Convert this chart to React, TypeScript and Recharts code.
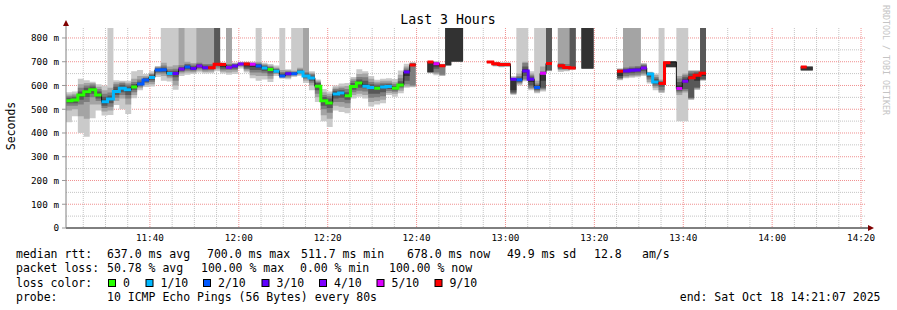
import {
  Area,
  CartesianGrid,
  ComposedChart,
  Line,
  ReferenceDot,
  XAxis,
  YAxis,
} from "recharts";

const MONO = '"DejaVu Sans Mono", monospace';

// time axis in minutes after midnight; graph ends Sat Oct 18 14:21:07 2025
const START_MIN = 681 + 7 / 60;
const END_MIN = START_MIN + 180;
const STEP_MIN = 80 / 60;
const Y_MAX = 842;
const HI = 900; // ping above the top of the graph

const X_TICKS = [700, 720, 740, 760, 780, 800, 820, 840, 860];
const X_MINOR = [
  685, 690, 695, 705, 710, 715, 725, 730, 735, 745, 750, 755, 765, 770, 775,
  785, 790, 795, 805, 810, 815, 825, 830, 835, 845, 850, 855,
];
const Y_TICKS = [0, 100, 200, 300, 400, 500, 600, 700, 800];
const Y_MAJOR = [100, 200, 300, 400, 500, 600, 700, 800];
const Y_MINOR = [50, 150, 250, 350, 450, 550, 650, 750];

// median rtt (ms) per 80s step
const MEDIAN: (number | null)[] = [
  536, 539, 560, 574, 582, 560, 532, 543, 575, 588,
  582, 594, 606, 623, 634, 665, 666, 650, 650, 669,
  678, 671, 682, 675, 675, 689, 688, 676, 682, 690,
  690, 689, 682, 674, 667, 660, 640, 649, 649, 657,
  640, 632, 597, 536, 526, 564, 568, 557, 596, 610,
  597, 592, 588, 594, 596, 588, 602, 657, 686, null,
  null, 699, 692, 683, null, null, null, null, null, null,
  null, 699, 692, 688, 688, 626, 624, 661, 626, 592,
  651, 693, null, 683, 676, 674, null, null, null, null,
  null, null, null, 660, 661, 664, 665, 674, 648, 615,
  608, 696, 699, 587, 618, 633, 643, 651, null, null,
  null, null, null, null, null, null, null, null, null, null,
  null, null, null, null, 678, null, null, null, null, null,
  null, null, null, null, null,
];

// lost pings out of 10 per step
const LOSS: (number | null)[] = [
  0, 0, 0, 0, 0, 0, 1, 1, 1, 1,
  1, 0, 2, 2, 1, 2, 2, 1, 3, 4,
  2, 3, 4, 3, 9, 9, 9, 4, 3, 4,
  9, 5, 2, 1, 0, 1, 2, 3, 2, 1,
  1, 1, 0, 0, 0, 1, 1, 0, 0, 0,
  1, 1, 0, 1, 1, 0, 0, 3, 9, null,
  null, 9, 5, 9, null, null, null, null, null, null,
  null, 9, 9, 9, 9, 3, 2, 3, 3, 2,
  5, 9, null, 9, 9, 9, null, null, null, null,
  null, null, null, 9, 3, 3, 3, 4, 1, 1,
  9, 9, null, 5, 4, 9, 9, 9, null, null,
  null, null, null, null, null, null, null, null, null, null,
  null, null, null, null, 9, null, null, null, null, null,
  null, null, null, null, null,
];

// sorted pings (ms) per step, used for the smoke
const PINGS: (number[] | null)[] = [
  [445, 495, 515, 525, 532, 540, 548, 555, 562, 572],
  [470, 500, 515, 525, 535, 543, 550, 558, 565, 575],
  [400, 470, 520, 540, 552, 566, 575, 590, 605, 628],
  [384, 460, 530, 552, 566, 580, 590, 600, 610, 622],
  [462, 520, 550, 565, 576, 588, 596, 604, 610, 616],
  [495, 520, 535, 545, 555, 565, 575, 585, 595, 605],
  [474, 490, 505, 515, 525, 540, 553, 565, 580, 600],
  [476, 495, 510, 525, 538, 548, 558, 570, 590, HI],
  [518, 535, 548, 560, 570, 582, 595, 605, 614, 622],
  [500, 545, 560, 572, 584, 594, 603, 610, 616, 620],
  // 10
  [480, 520, 545, 560, 575, 588, 596, 604, 612, 620],
  [546, 560, 572, 582, 590, 598, 606, 615, 628, 660],
  [580, 588, 595, 600, 604, 610, 616, 625, 640, 665],
  [594, 603, 610, 615, 620, 626, 630, 634, 640, 648],
  [596, 605, 615, 622, 630, 638, 643, 648, 652, 660],
  [636, 645, 652, 658, 663, 668, 672, 676, 679, 682],
  [620, 640, 650, 657, 663, 670, 676, 684, 696, HI],
  [617, 630, 638, 643, 647, 653, 660, 668, 680, HI],
  [582, 600, 620, 635, 645, 655, 662, 670, 685, HI],
  [640, 650, 657, 662, 667, 673, 678, 685, HI, HI],
  // 20
  [645, 655, 662, 668, 675, 682, 688, 692, 700, HI],
  [648, 655, 660, 665, 669, 675, 681, 688, 695, HI],
  [655, 662, 668, 674, 679, 685, 690, 696, HI, HI],
  [650, 657, 663, 668, 672, 678, 684, 690, HI, HI],
  [652, 658, 664, 669, 673, 678, 683, 690, HI, HI],
  [660, 668, 676, 684, 688, 692, HI, HI, HI, HI],
  [650, 658, 664, 670, 678, 686, 690, 692, 695, 698],
  [645, 655, 665, 670, 674, 680, 685, 690, HI, HI],
  [648, 658, 666, 672, 679, 685, 688, 691, 694, 697],
  [672, 678, 682, 686, 689, 692, 694, 696, 698, 700],
  // 30
  [655, 662, 668, 672, 680, 692, 694, 696, 698, 700],
  [630, 643, 655, 665, 678, 686, 690, 693, 696, 700],
  [620, 640, 655, 665, 676, 686, 690, 694, 700, HI],
  [625, 640, 652, 660, 668, 678, 682, 686, 690, 696],
  [615, 628, 640, 650, 662, 671, 676, 680, 684, 690],
  [640, 648, 652, 656, 659, 664, 668, 672, 676, 684],
  [628, 632, 636, 638, 640, 645, 650, 657, 665, HI],
  [626, 632, 638, 643, 647, 652, 656, 660, 664, 668],
  [636, 640, 644, 646, 648, 652, 655, 658, 662, HI],
  [640, 645, 650, 653, 656, 660, 664, 668, 675, HI],
  // 40
  [610, 620, 628, 634, 638, 644, 650, 656, HI, HI],
  [580, 600, 612, 620, 628, 636, 642, 648, 654, 660],
  [530, 550, 565, 580, 592, 602, 610, 615, 620, 625],
  [449, 475, 500, 515, 530, 542, 552, 560, 572, 585],
  [425, 460, 485, 505, 520, 532, 545, 555, 565, 575],
  [495, 515, 530, 545, 558, 570, 578, 585, 592, 600],
  [488, 510, 530, 548, 562, 572, 580, 588, 596, 608],
  [483, 505, 525, 540, 552, 562, 572, 585, 598, 610],
  [545, 560, 572, 582, 592, 600, 610, 620, 628, 636],
  [553, 565, 578, 590, 605, 616, 625, 636, 648, 668],
  // 50
  [545, 560, 575, 588, 595, 605, 620, 635, 650, 660],
  [511, 530, 548, 565, 588, 597, 605, 615, 628, 640],
  [520, 535, 550, 565, 584, 592, 600, 608, 616, 624],
  [525, 540, 555, 572, 590, 598, 604, 612, 620, 628],
  [560, 568, 577, 585, 593, 599, 605, 612, 620, 630],
  [553, 565, 574, 580, 586, 592, 598, 606, 614, 627],
  [567, 578, 588, 595, 600, 608, 618, 630, 645, 663],
  [590, 596, 605, 620, 640, 658, 665, 672, 680, 692],
  [593, 596, 600, 686, 688, 690, 692, 694, 696, 698],
  null,
  // 60
  null,
  [652, 654, 655, 656, 657, 698, 699, 700, 701, 702],
  [643, 648, 655, 670, 680, 694, 696, 698, 700, 702],
  [640, 642, 645, 678, 680, 684, 686, 688, 690, 692],
  [685, 685, 685, 685, 685, HI, HI, HI, HI, HI],
  [701, 701, 701, 701, 701, HI, HI, HI, HI, HI],
  [701, 701, 701, 701, 701, HI, HI, HI, HI, HI],
  null,
  null,
  null,
  // 70
  null,
  null,
  [680, 682, 684, 686, 688, 692, 694, 696, 698, 700],
  [677, 679, 681, 684, 686, 690, 692, 694, 696, 698],
  [678, 680, 682, 684, 686, 690, 692, 694, 696, 698],
  [561, 563, 566, 570, 580, 622, 626, 630, 634, 640],
  [600, 605, 610, 615, 620, 628, 634, 640, 650, HI],
  [618, 622, 626, 640, 655, 668, 680, 695, 700, HI],
  [580, 585, 590, 600, 615, 630, 638, 643, 650, 660],
  [567, 572, 578, 582, 588, 596, 602, 608, 620, HI],
  // 80
  [575, 580, 585, 590, 620, 645, 652, 660, 680, HI],
  [660, 662, 664, 664, 690, 696, HI, HI, HI, HI],
  null,
  [657, 664, 668, 672, 678, 686, 690, 694, HI, HI],
  [660, 664, 668, 672, 674, 678, 682, 690, HI, HI],
  [665, 668, 670, 672, 674, 678, HI, HI, HI, HI],
  null,
  [671, 671, 671, 671, 671, HI, HI, HI, HI, HI],
  [671, 671, 671, 671, 671, HI, HI, HI, HI, HI],
  null,
  // 90
  null,
  null,
  null,
  [622, 625, 628, 632, 640, 660, 664, 668, 670, 672],
  [630, 635, 640, 650, 658, 664, 670, 676, HI, HI],
  [633, 638, 643, 652, 660, 668, 674, 680, HI, HI],
  [635, 640, 645, 655, 662, 670, 676, 682, HI, HI],
  [640, 645, 650, 660, 670, 678, 684, 688, 692, 695],
  [608, 615, 625, 635, 645, 650, 652, 654, 656, 658],
  [580, 590, 598, 605, 612, 620, 628, 636, 644, 650],
  // 100
  [568, 572, 580, 595, 605, 612, 616, 620, 625, HI],
  [676, 677, 677, 678, 678, 699, 700, 701, 702, 703],
  [676, 677, 677, 678, 678, 699, 700, 701, 702, 703],
  [449, 560, 570, 578, 585, 600, 615, 629, 640, HI],
  [449, 570, 578, 585, 612, 625, 635, 643, 650, HI],
  [539, 542, 545, 548, 628, 640, 650, 660, 662, 664],
  [581, 584, 588, 592, 620, 648, 655, 660, 662, 664],
  [620, 622, 624, 626, 640, 656, HI, HI, HI, HI],
  null,
  null,
  // 110
  null, null, null, null, null, null, null, null, null, null,
  // 120
  null,
  null,
  null,
  null,
  [661, 662, 663, 664, 665, 678, 679, 680, 681, 682],
  [661, 662, 663, 664, 665, 678, 679, 680, 681, 682],
  null,
  null,
  null,
  null,
  // 130
  null, null, null, null, null,
];

const SMOKE = ["#cacaca", "#a4a4a4", "#7e7e7e", "#585858", "#323232"];
const LOSS_LABELS = ["0", "1/10", "2/10", "3/10", "4/10", "5/10", "9/10"];
const LOSS_COLORS = ["#26ff00", "#00b8ff", "#0059ff", "#5e00ff", "#7e00ff", "#dd00ff", "#ff0000"];

const RTT_STATS = ["637.0 ms avg", "700.0 ms max", "511.7 ms min", "678.0 ms now", "49.9 ms sd", "12.8", "am/s"];
const LOSS_STATS = ["50.78 % avg", "100.00 % max", "0.00 % min", "100.00 % now"];
const PROBE = "10 ICMP Echo Pings (56 Bytes) every 80s";
const END_LABEL = "end: Sat Oct 18 14:21:07 2025";

// legend layout
const RTT_X = [107, 207, 301, 407, 507, 594, 642];
const LOSS_X = [107, 201, 300, 389];
const SWATCH_X = [108.5, 146, 203.5, 262, 319.5, 377, 435];

function lossClass(n: number | null) {
  if (n == null) return -1;
  if (n >= 9) return 6;
  if (n >= 5) return 5;
  return n;
}

const rows = MEDIAN.flatMap((med, k) => {
  const p = PINGS[k];
  const cls = lossClass(LOSS[k]);
  const base: Record<string, unknown> = { med };
  SMOKE.forEach((_, j) => {
    base["b" + j] = p ? [Math.min(p[j], Y_MAX), Math.min(p[9 - j], Y_MAX)] : null;
  });
  LOSS_COLORS.forEach((_, c) => {
    base["c" + c] = cls === c ? med : null;
  });
  const t0 = START_MIN + k * STEP_MIN;
  return [
    { x: t0, ...base },
    { x: t0 + STEP_MIN, ...base },
  ];
});

const fmtTime = (m: number) =>
  `${Math.floor(m / 60)}:${String(Math.round(m % 60)).padStart(2, "0")}`;

const fmtMs = (v: number) => (v === 0 ? "0" : `${v} m`);

export default function App() {
  return (
    <div style={{ position: "absolute", left: 0, top: 0, width: 897, height: 310, background: "#fff" }}>
      <ComposedChart
        width={897}
        height={310}
        data={rows}
        margin={{ top: 28, right: 31, bottom: 62, left: 10 }}
      >
        <CartesianGrid
          horizontalValues={Y_MINOR}
          verticalValues={X_MINOR}
          stroke="#c4c4c4"
          strokeDasharray="1 1"
          fill="none"
        />
        <CartesianGrid
          horizontalValues={Y_MAJOR}
          verticalValues={X_TICKS}
          stroke="#f09090"
          strokeDasharray="1 1"
          fill="none"
        />
        <XAxis
          dataKey="x"
          type="number"
          domain={[START_MIN, END_MIN]}
          ticks={X_TICKS}
          interval={0}
          allowDataOverflow
          tickFormatter={fmtTime}
          height={20}
          axisLine={{ stroke: "#000" }}
          tickLine={false}
          tickSize={4}
          tickMargin={2}
          tick={{ fontSize: 9.3, fill: "#000", fontFamily: MONO }}
        />
        <YAxis
          type="number"
          domain={[0, Y_MAX]}
          ticks={Y_TICKS}
          interval={0}
          allowDataOverflow
          tickFormatter={fmtMs}
          width={56}
          axisLine={{ stroke: "#808080" }}
          tickLine={{ stroke: "#999" }}
          tickSize={4}
          tickMargin={3}
          tick={{ fontSize: 9.3, fill: "#000", fontFamily: MONO }}
        />

        {SMOKE.map((color, j) => (
          <Area
            key={"b" + j}
            dataKey={"b" + j}
            type="linear"
            fill={color}
            fillOpacity={1}
            stroke="none"
            dot={false}
            activeDot={false}
            connectNulls={false}
            isAnimationActive={false}
          />
        ))}

        <Line
          dataKey="med"
          type="linear"
          stroke="#111"
          strokeWidth={1}
          dot={false}
          activeDot={false}
          connectNulls={false}
          isAnimationActive={false}
        />
        {LOSS_COLORS.map((color, c) => (
          <Line
            key={"c" + c}
            dataKey={"c" + c}
            type="linear"
            stroke={color}
            strokeWidth={3}
            dot={false}
            activeDot={false}
            connectNulls={false}
            isAnimationActive={false}
          />
        ))}

        <ReferenceDot
          x={END_MIN}
          y={0}
          r={0}
          ifOverflow="visible"
          shape={(p: { cx: number; cy: number }) => (
            <g>
              <line x1={p.cx} y1={p.cy} x2={p.cx + 3} y2={p.cy} stroke="#000" />
              <path d={`M${p.cx + 2},${p.cy - 3} L${p.cx + 8},${p.cy} L${p.cx + 2},${p.cy + 3} Z`} fill="#800000" />
            </g>
          )}
        />
        <ReferenceDot
          x={START_MIN}
          y={Y_MAX}
          r={0}
          ifOverflow="visible"
          shape={(p: { cx: number; cy: number }) => (
            <g>
              <line x1={p.cx} y1={p.cy} x2={p.cx} y2={p.cy - 3} stroke="#808080" />
              <path d={`M${p.cx - 3},${p.cy - 2} L${p.cx},${p.cy - 8} L${p.cx + 3},${p.cy - 2} Z`} fill="#800000" />
            </g>
          )}
        />
      </ComposedChart>

      <svg
        width={897}
        height={310}
        style={{ position: "absolute", left: 0, top: 0, pointerEvents: "none" }}
        fontFamily={MONO}
      >
        <text x={448} y={24} textAnchor="middle" fontSize={13.2} fill="#000">
          Last 3 Hours
        </text>
        <text transform="translate(15 126) rotate(-90)" textAnchor="middle" fontSize={11.5} fill="#000">
          Seconds
        </text>
        <text transform="translate(883 5) rotate(90)" fontSize={8.3} fill="#c4c4c4">
          RRDTOOL / TOBI OETIKER
        </text>

        <g fontSize={11.5} fill="#000">
          <text x={16} y={258.3}>median rtt:</text>
          {RTT_STATS.map((s, i) => (
            <text key={"r" + i} x={RTT_X[i]} y={258.3}>{s}</text>
          ))}
          <text x={16} y={272.4}>packet loss:</text>
          {LOSS_STATS.map((s, i) => (
            <text key={"l" + i} x={LOSS_X[i]} y={272.4}>{s}</text>
          ))}
          <text x={16} y={286.5}>loss color:</text>
          {LOSS_LABELS.map((s, i) => (
            <g key={"s" + i}>
              <rect x={SWATCH_X[i]} y={279.5} width={7} height={7} fill={LOSS_COLORS[i]} stroke="#000" />
              <text x={SWATCH_X[i] + 14.5} y={286.5}>{s}</text>
            </g>
          ))}
          <text x={16} y={300.6}>probe:</text>
          <text x={107} y={300.6}>{PROBE}</text>
          <text x={880.5} y={300.6} textAnchor="end">{END_LABEL}</text>
        </g>
      </svg>
    </div>
  );
}
